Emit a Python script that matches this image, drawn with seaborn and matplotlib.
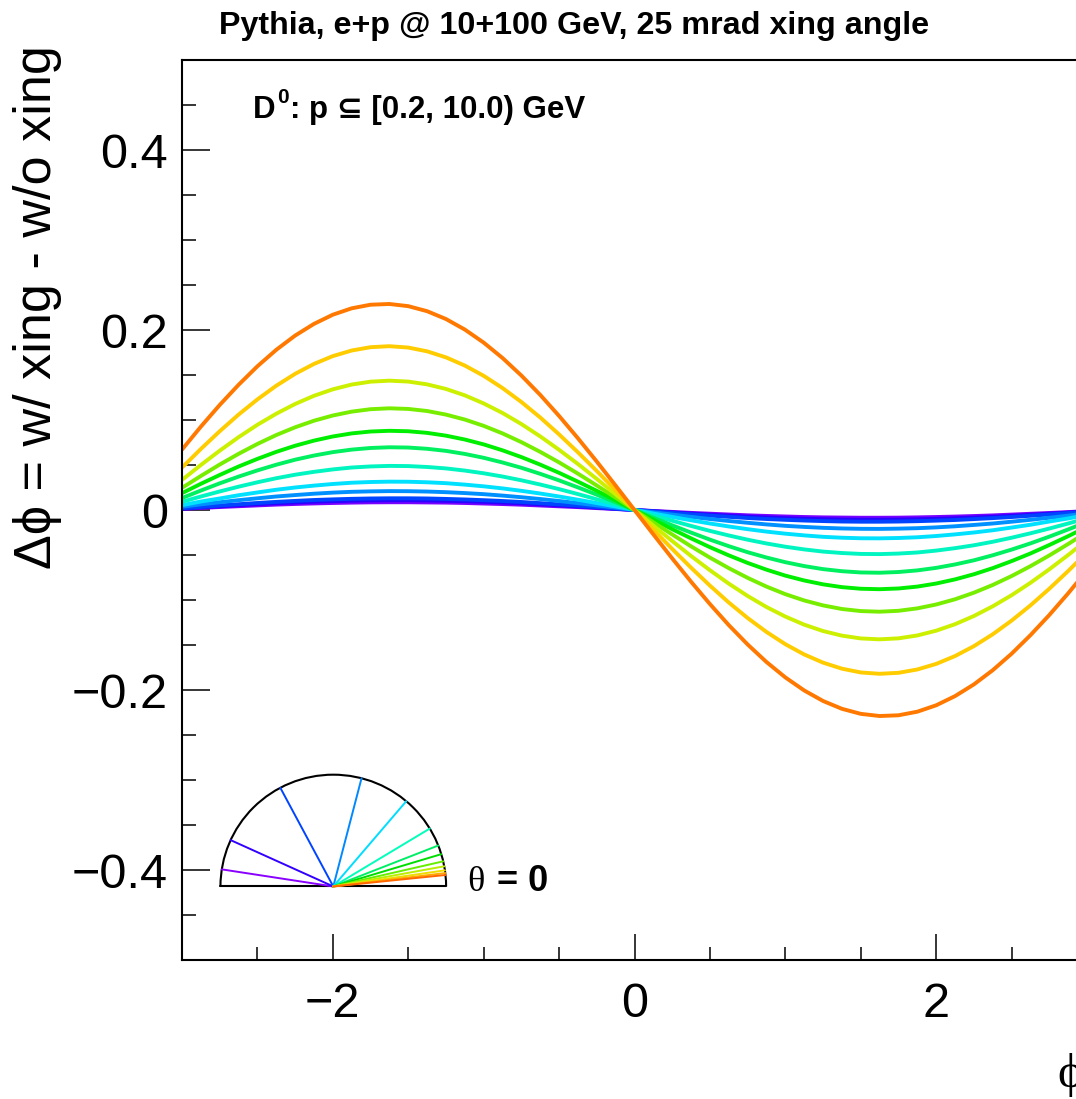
import numpy as np
import pandas as pd
import matplotlib
matplotlib.use("Agg")
import matplotlib.pyplot as plt
import seaborn as sns
from matplotlib.patches import Arc
from matplotlib.ticker import MultipleLocator, FuncFormatter

# ---------------- data ----------------
phi = [-3.0, -2.875, -2.75, -2.625, -2.5, -2.375, -2.25, -2.125, -2.0, -1.875, -1.75, -1.625,
       -1.5, -1.375, -1.25, -1.125, -1.0, -0.875, -0.75, -0.625, -0.5, -0.375, -0.25, -0.125,
       0.0,
       0.125, 0.25, 0.375, 0.5, 0.625, 0.75, 0.875, 1.0, 1.125, 1.25, 1.375, 1.5,
       1.625, 1.75, 1.875, 2.0, 2.125, 2.25, 2.375, 2.5, 2.625, 2.75, 2.875, 3.0]

curve_orange = [0.0671, 0.0926, 0.1167, 0.1391, 0.1597, 0.1780, 0.1938, 0.2068, 0.2170, 0.2241, 0.2281, 0.2289,
                0.2265, 0.2209, 0.2122, 0.2005, 0.1860, 0.1689, 0.1494, 0.1279, 0.1045, 0.0797, 0.0538, 0.0271,
                0.0,
                -0.0271, -0.0538, -0.0797, -0.1045, -0.1279, -0.1494, -0.1689, -0.1860, -0.2005, -0.2122, -0.2209, -0.2265,
                -0.2289, -0.2281, -0.2241, -0.2170, -0.2068, -0.1938, -0.1780, -0.1597, -0.1391, -0.1167, -0.0926, -0.0671]
curve_gold = [0.0471, 0.0678, 0.0875, 0.1060, 0.1229, 0.1381, 0.1513, 0.1623, 0.1710, 0.1772, 0.1809, 0.1820,
              0.1805, 0.1763, 0.1696, 0.1605, 0.1491, 0.1355, 0.1200, 0.1028, 0.0840, 0.0641, 0.0433, 0.0218,
              0.0,
              -0.0218, -0.0433, -0.0641, -0.0840, -0.1028, -0.1200, -0.1355, -0.1491, -0.1605, -0.1696, -0.1763, -0.1805,
              -0.1820, -0.1809, -0.1772, -0.1710, -0.1623, -0.1513, -0.1381, -0.1229, -0.1060, -0.0875, -0.0678, -0.0471]
curve_yellowgreen = [0.0334, 0.0500, 0.0659, 0.0809, 0.0947, 0.1070, 0.1178, 0.1269, 0.1341, 0.1394, 0.1426, 0.1437,
                     0.1427, 0.1396, 0.1345, 0.1274, 0.1184, 0.1078, 0.0955, 0.0818, 0.0669, 0.0511, 0.0345, 0.0174,
                     0.0,
                     -0.0174, -0.0345, -0.0511, -0.0669, -0.0818, -0.0955, -0.1078, -0.1184, -0.1274, -0.1345, -0.1396, -0.1427,
                     -0.1437, -0.1426, -0.1394, -0.1341, -0.1269, -0.1178, -0.1070, -0.0947, -0.0809, -0.0659, -0.0500, -0.0334]
curve_chartreuse = [0.0246, 0.0378, 0.0505, 0.0624, 0.0734, 0.0833, 0.0919, 0.0992, 0.1050, 0.1093, 0.1120, 0.1130,
                    0.1123, 0.1100, 0.1060, 0.1005, 0.0935, 0.0851, 0.0754, 0.0646, 0.0529, 0.0404, 0.0272, 0.0137,
                    0.0,
                    -0.0137, -0.0272, -0.0404, -0.0529, -0.0646, -0.0754, -0.0851, -0.0935, -0.1005, -0.1060, -0.1100, -0.1123,
                    -0.1130, -0.1120, -0.1093, -0.1050, -0.0992, -0.0919, -0.0833, -0.0734, -0.0624, -0.0505, -0.0378, -0.0246]
curve_green = [0.0187, 0.0291, 0.0389, 0.0483, 0.0568, 0.0646, 0.0714, 0.0771, 0.0817, 0.0851, 0.0872, 0.0880,
               0.0875, 0.0857, 0.0826, 0.0783, 0.0729, 0.0663, 0.0588, 0.0504, 0.0413, 0.0315, 0.0213, 0.0107,
               0.0,
               -0.0107, -0.0213, -0.0315, -0.0413, -0.0504, -0.0588, -0.0663, -0.0729, -0.0783, -0.0826, -0.0857, -0.0875,
               -0.0880, -0.0872, -0.0851, -0.0817, -0.0771, -0.0714, -0.0646, -0.0568, -0.0483, -0.0389, -0.0291, -0.0187]
curve_spring = [0.0133, 0.0216, 0.0296, 0.0371, 0.0440, 0.0503, 0.0559, 0.0605, 0.0643, 0.0671, 0.0689, 0.0697,
                0.0694, 0.0680, 0.0657, 0.0623, 0.0580, 0.0528, 0.0469, 0.0402, 0.0329, 0.0251, 0.0170, 0.0085,
                0.0,
                -0.0085, -0.0170, -0.0251, -0.0329, -0.0402, -0.0469, -0.0528, -0.0580, -0.0623, -0.0657, -0.0680, -0.0694,
                -0.0697, -0.0689, -0.0671, -0.0643, -0.0605, -0.0559, -0.0503, -0.0440, -0.0371, -0.0296, -0.0216, -0.0133]
curve_aqua = [0.0091, 0.0150, 0.0206, 0.0259, 0.0308, 0.0353, 0.0392, 0.0424, 0.0451, 0.0472, 0.0484, 0.0490,
              0.0488, 0.0478, 0.0462, 0.0438, 0.0408, 0.0372, 0.0330, 0.0283, 0.0232, 0.0177, 0.0119, 0.0060,
              0.0,
              -0.0060, -0.0119, -0.0177, -0.0232, -0.0283, -0.0330, -0.0372, -0.0408, -0.0438, -0.0462, -0.0478, -0.0488,
              -0.0490, -0.0484, -0.0472, -0.0451, -0.0424, -0.0392, -0.0353, -0.0308, -0.0259, -0.0206, -0.0150, -0.0091]
curve_cyan = [0.0054, 0.0094, 0.0128, 0.0164, 0.0195, 0.0225, 0.0250, 0.0271, 0.0289, 0.0303, 0.0311, 0.0315,
              0.0314, 0.0308, 0.0298, 0.0282, 0.0263, 0.0240, 0.0213, 0.0183, 0.0150, 0.0114, 0.0077, 0.0039,
              0.0,
              -0.0039, -0.0077, -0.0114, -0.0150, -0.0183, -0.0213, -0.0240, -0.0263, -0.0282, -0.0298, -0.0308, -0.0314,
              -0.0315, -0.0311, -0.0303, -0.0289, -0.0271, -0.0250, -0.0225, -0.0195, -0.0164, -0.0128, -0.0094, -0.0054]
curve_dodger = [0.0036, 0.0063, 0.0086, 0.0109, 0.0130, 0.0150, 0.0166, 0.0181, 0.0193, 0.0202, 0.0207, 0.0210,
                0.0209, 0.0205, 0.0198, 0.0188, 0.0176, 0.0160, 0.0142, 0.0122, 0.0100, 0.0076, 0.0051, 0.0026,
                0.0,
                -0.0026, -0.0051, -0.0076, -0.0100, -0.0122, -0.0142, -0.0160, -0.0176, -0.0188, -0.0198, -0.0205, -0.0209,
                -0.0210, -0.0207, -0.0202, -0.0193, -0.0181, -0.0166, -0.0150, -0.0130, -0.0109, -0.0086, -0.0063, -0.0036]
curve_blue = [0.0018, 0.0034, 0.0050, 0.0064, 0.0078, 0.0090, 0.0101, 0.0111, 0.0118, 0.0124, 0.0128, 0.0130,
              0.0130, 0.0128, 0.0123, 0.0117, 0.0109, 0.0100, 0.0089, 0.0076, 0.0062, 0.0048, 0.0032, 0.0016,
              0.0,
              -0.0016, -0.0032, -0.0048, -0.0062, -0.0076, -0.0089, -0.0100, -0.0109, -0.0117, -0.0123, -0.0128, -0.0130,
              -0.0130, -0.0128, -0.0124, -0.0118, -0.0111, -0.0101, -0.0090, -0.0078, -0.0064, -0.0050, -0.0034, -0.0018]
curve_blueviolet = [0.0015, 0.0029, 0.0041, 0.0053, 0.0065, 0.0075, 0.0084, 0.0092, 0.0098, 0.0103, 0.0106, 0.0108,
                    0.0108, 0.0106, 0.0102, 0.0097, 0.0091, 0.0083, 0.0074, 0.0063, 0.0052, 0.0040, 0.0027, 0.0013,
                    0.0,
                    -0.0013, -0.0027, -0.0040, -0.0052, -0.0063, -0.0074, -0.0083, -0.0091, -0.0097, -0.0102, -0.0106, -0.0108,
                    -0.0108, -0.0106, -0.0103, -0.0098, -0.0092, -0.0084, -0.0075, -0.0065, -0.0053, -0.0041, -0.0029, -0.0015]
curve_violet = [0.0012, 0.0023, 0.0033, 0.0042, 0.0051, 0.0060, 0.0067, 0.0073, 0.0078, 0.0082, 0.0085, 0.0086,
                0.0086, 0.0084, 0.0082, 0.0078, 0.0072, 0.0066, 0.0059, 0.0050, 0.0041, 0.0032, 0.0021, 0.0011,
                0.0,
                -0.0011, -0.0021, -0.0032, -0.0041, -0.0050, -0.0059, -0.0066, -0.0072, -0.0078, -0.0082, -0.0084, -0.0086,
                -0.0086, -0.0085, -0.0082, -0.0078, -0.0073, -0.0067, -0.0060, -0.0051, -0.0042, -0.0033, -0.0023, -0.0012]

curve_names = ["violet", "blueviolet", "blue", "dodger", "cyan", "aqua", "spring",
               "green", "chartreuse", "yellowgreen", "gold", "orange"]
curve_values = [curve_violet, curve_blueviolet, curve_blue, curve_dodger, curve_cyan, curve_aqua,
                curve_spring, curve_green, curve_chartreuse, curve_yellowgreen, curve_gold, curve_orange]
curve_colors = ["#7a00ff", "#2a00ff", "#0044ff", "#0090ff", "#00e0ff", "#00f5c0", "#00f060",
                "#00ee00", "#77ee00", "#ccf000", "#ffcc00", "#ff7800"]

# inset: polar-angle directions (degrees) and their colours
inset_theta_deg = [171.2, 155.5, 118.0, 75.5, 49.7, 31.2, 21.5, 16.8, 13.0, 10.4, 8.3, 6.9, 5.9]
inset_colors = ["#8a00ff", "#3300ff", "#0044ff", "#0088ff", "#00ddff", "#00ffbb", "#00ee66",
                "#00dd00", "#66ee00", "#bbee00", "#eedd00", "#ffaa00", "#ff6600"]

title_text = "Pythia, e+p @ 10+100 GeV, 25 mrad xing angle"
ylabel_text = "\u0394\u03d5 = w/ xing - w/o xing"
sel_main, sel_sup, sel_rest = "D", "0", ": p \u2286 [0.2, 10.0) GeV"

# ---------------- build long-form table ----------------
rows = []
for name, vals in zip(curve_names, curve_values):
    for p, v in zip(phi, vals):
        rows.append({"phi": p, "dphi": v, "curve": name})
df = pd.DataFrame(rows)

sns.set_style("white")
plt.rcParams["font.family"] = ["Liberation Sans", "DejaVu Sans"]
plt.rcParams["axes.unicode_minus"] = True
for k in ["text.color", "axes.labelcolor", "xtick.color", "ytick.color", "axes.edgecolor"]:
    plt.rcParams[k] = "black"

W, H = 1076, 1099
fig = plt.figure(figsize=(W / 100, H / 100), dpi=100)
ax = fig.add_axes([182 / W, 139 / H, 905 / W, 900 / H])

sns.lineplot(data=df, x="phi", y="dphi", hue="curve", hue_order=curve_names,
             palette=dict(zip(curve_names, curve_colors)), estimator=None, errorbar=None,
             sort=False, legend=False, linewidth=2.8, ax=ax)

ax.set_xlim(-3, 3)
ax.set_ylim(-0.5, 0.5)
ax.set_xlabel("")
ax.set_ylabel("")

for s in ax.spines.values():
    s.set_color("black")
    s.set_linewidth(1.5)

ax.xaxis.set_major_locator(MultipleLocator(2))
ax.xaxis.set_minor_locator(MultipleLocator(0.5))
ax.yaxis.set_major_locator(MultipleLocator(0.2))
ax.yaxis.set_minor_locator(MultipleLocator(0.05))


def yfmt(v, p):
    if abs(v) < 1e-9:
        return "0"
    return f"{v:.1f}".replace("-", "\u2212")


def xfmt(v, p):
    if abs(v) < 1e-9:
        return "0"
    return f"{v:.0f}".replace("-", "\u2212")


ax.yaxis.set_major_formatter(FuncFormatter(yfmt))
ax.xaxis.set_major_formatter(FuncFormatter(xfmt))

ax.tick_params(which="both", direction="in", top=False, right=False, left=True, bottom=True,
               color="black", width=1.1, labelsize=35, labelcolor="black")
ax.tick_params(axis="y", which="major", length=20, pad=10)
ax.tick_params(axis="y", which="minor", length=10)
ax.tick_params(axis="x", which="major", length=18.5, pad=16)
ax.tick_params(axis="x", which="minor", length=9.3)

# ---------------- inset: semicircle with direction lines ----------------
cx, cy = -1.997, -0.4183
rx, ry = 0.748, 0.1242
ax.add_patch(Arc((cx, cy), 2 * rx, 2 * ry, theta1=0, theta2=180, color="black", lw=1.5))
ax.plot([cx - rx, cx + rx], [cy, cy], color="black", lw=1.5)
for th, col in zip(inset_theta_deg, inset_colors):
    t = np.deg2rad(th)
    ax.plot([cx, cx + rx * np.cos(t)], [cy, cy + ry * np.sin(t)], color=col, lw=1.4)

# ---------------- texts ----------------
fig.text(574 / W, 1 - 26 / H, title_text, ha="center", va="center", fontsize=23.2, fontweight="bold")

renderer = fig.canvas.get_renderer()
y_base = 1 - 118 / H
t1 = fig.text(253 / W, y_base, sel_main, ha="left", va="baseline", fontsize=22.5, fontweight="bold")
b1 = t1.get_window_extent(renderer)
t2 = fig.text((b1.x1 + 2) / W, y_base + 15 / H, sel_sup, ha="left", va="baseline",
              fontsize=15, fontweight="bold")
b2 = t2.get_window_extent(renderer)
fig.text((b2.x1 + 1) / W, y_base, sel_rest, ha="left", va="baseline", fontsize=22.5,
         fontweight="bold", family=["Liberation Sans", "DejaVu Sans"])

fig.text(38 / W, 1 - 307 / H, ylabel_text, rotation=90, ha="center", va="center", fontsize=37.5)
fig.text(1057 / W, 1 - 1075 / H, "\u03d5", ha="left", va="center", fontsize=35,
         family=["Liberation Serif", "DejaVu Serif"])
fig.text(467 / W, 1 - 891 / H, "\u03b8", ha="left", va="baseline", fontsize=26,
         family=["Liberation Serif", "DejaVu Serif"])
fig.text(497 / W, 1 - 891 / H, "= 0", ha="left", va="baseline", fontsize=26, fontweight="bold")

fig.savefig("out.png", dpi=100)
